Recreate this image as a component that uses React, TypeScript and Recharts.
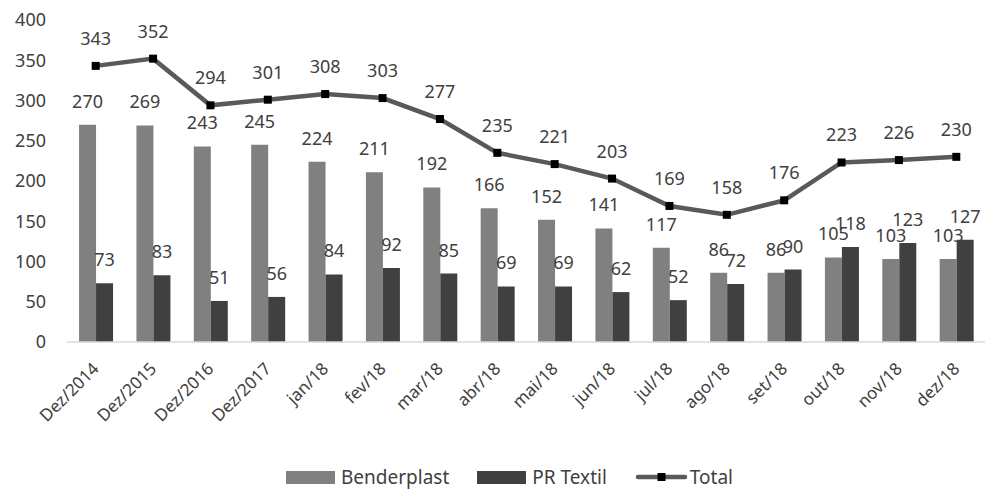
import { Bar, ComposedChart, LabelList, Legend, Line, XAxis, YAxis } from 'recharts';

const categories = [
  'Dez/2014', 'Dez/2015', 'Dez/2016', 'Dez/2017', 'jan/18', 'fev/18', 'mar/18', 'abr/18',
  'mai/18', 'jun/18', 'jul/18', 'ago/18', 'set/18', 'out/18', 'nov/18', 'dez/18',
];
const benderplast = [270, 269, 243, 245, 224, 211, 192, 166, 152, 141, 117, 86, 86, 105, 103, 103];
const prTextil = [73, 83, 51, 56, 84, 92, 85, 69, 69, 62, 52, 72, 90, 118, 123, 127];
const total = [343, 352, 294, 301, 308, 303, 277, 235, 221, 203, 169, 158, 176, 223, 226, 230];
const yTicks = [0, 50, 100, 150, 200, 250, 300, 350, 400];

const data = categories.map((name, i) => ({
  name,
  benderplast: benderplast[i],
  prTextil: prTextil[i],
  total: total[i],
}));

const FONT = '"Noto Sans", sans-serif';
const TEXT = '#404040';

const SquareDot = (props: any) => {
  const { cx, cy } = props;
  if (cx == null || cy == null) return null;
  return <rect x={cx - 4} y={cy - 4} width={8} height={8} fill="#000" />;
};

const XTick = (props: any) => {
  const { x, y, payload } = props;
  return (
    <g transform={`translate(${x},${y})`}>
      <text
        x={0}
        y={0}
        dy={17}
        dx={-11}
        textAnchor="end"
        transform="rotate(-45)"
        fill={TEXT}
        fontSize={17}
        fontFamily={FONT}
      >
        {payload.value}
      </text>
    </g>
  );
};

const LegendContent = () => (
  <div
    style={{
      display: 'flex',
      justifyContent: 'center',
      alignItems: 'center',
      gap: 28,
      fontFamily: FONT,
      fontSize: 19,
      color: TEXT,
      height: 24,
      paddingLeft: 34,
    }}
  >
    <span style={{ display: 'flex', alignItems: 'center', gap: 6 }}>
      <span style={{ width: 49, height: 13, background: '#808080', display: 'inline-block' }} />
      Benderplast
    </span>
    <span style={{ display: 'flex', alignItems: 'center', gap: 6 }}>
      <span style={{ width: 49, height: 13, background: '#404040', display: 'inline-block' }} />
      PR Textil
    </span>
    <span style={{ display: 'flex', alignItems: 'center', gap: 2 }}>
      <svg width={53} height={14}>
        <line x1={3} y1={7} x2={50} y2={7} stroke="#595959" strokeWidth={4.5} strokeLinecap="round" />
        <rect x={22.5} y={3} width={8} height={8} fill="#000" />
      </svg>
      Total
    </span>
  </div>
);

export default function App() {
  return (
    <div style={{ position: 'absolute', left: 0, top: 0, width: 986, height: 489, background: '#fff' }}>
      <ComposedChart
        width={986}
        height={489}
        data={data}
        margin={{ top: 20, right: 1, bottom: 0, left: 0 }}
        barCategoryGap="21%"
        barGap={0}
      >
        <XAxis
          dataKey="name"
          interval={0}
          tickLine={false}
          axisLine={{ stroke: '#d9d9d9', strokeWidth: 1.5 }}
          height={123}
          tick={<XTick />}
        />
        <YAxis
          domain={[0, 400]}
          ticks={yTicks}
          width={67}
          axisLine={false}
          tickLine={false}
          tickMargin={15}
          tick={{ fill: TEXT, fontSize: 18, fontFamily: FONT }}
        />
        <Legend verticalAlign="bottom" height={24} content={<LegendContent />} />
        <Bar dataKey="benderplast" name="Benderplast" fill="#808080" isAnimationActive={false}>
          <LabelList dataKey="benderplast" position="top" offset={17} fill={TEXT} fontSize={18} fontFamily={FONT} />
        </Bar>
        <Bar dataKey="prTextil" name="PR Textil" fill="#404040" isAnimationActive={false}>
          <LabelList dataKey="prTextil" position="top" offset={17} fill={TEXT} fontSize={18} fontFamily={FONT} />
        </Bar>
        <Line
          type="linear"
          dataKey="total"
          name="Total"
          stroke="#595959"
          strokeWidth={4.5}
          dot={<SquareDot />}
          activeDot={false}
          isAnimationActive={false}
        >
          <LabelList dataKey="total" position="top" offset={21} fill={TEXT} fontSize={18} fontFamily={FONT} />
        </Line>
      </ComposedChart>
    </div>
  );
}
